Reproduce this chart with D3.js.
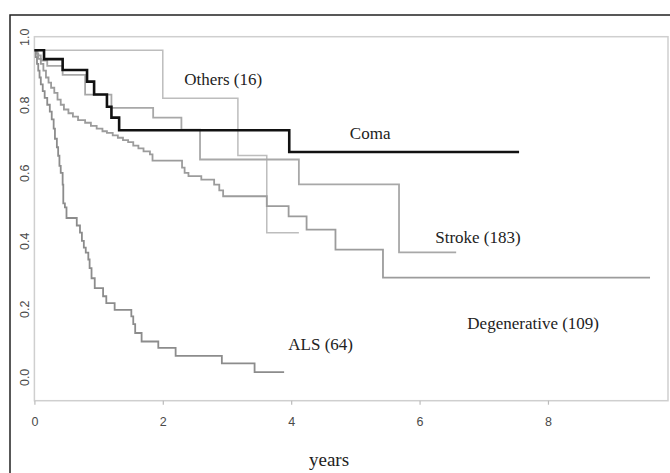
<!DOCTYPE html>
<html>
<head>
<meta charset="utf-8">
<script src="https://cdn.jsdelivr.net/npm/d3@7"></script>
<style>
  body { margin: 0; background: #fff; }
  svg { display: block; }
  .tick text { font-family: "Liberation Sans", Arial, sans-serif; font-size: 12.5px; fill: #4a4a4a; }
  .label { font-family: "Liberation Serif", "Times New Roman", serif; fill: #222; }
</style>
</head>
<body>
<svg id="chart" width="670" height="473"></svg>
<script>
// Survival curves, [years, survival] after each step
const coma = [[0, 0.96], [0.15, 0.934], [0.44, 0.902], [0.82, 0.868], [0.93, 0.83], [1.13, 0.794],
  [1.2, 0.762], [1.32, 0.725], [3.97, 0.661], [7.55, 0.661]]

const others = [[0, 0.96], [2.0, 0.819], [3.17, 0.651], [3.62, 0.424], [4.12, 0.424]]

const stroke = [[0, 0.96], [0.05, 0.945], [0.1, 0.93], [0.2, 0.914], [0.44, 0.888], [0.79, 0.83],
  [1.2, 0.791], [1.85, 0.762], [2.29, 0.727], [2.58, 0.639], [4.12, 0.566], [5.68, 0.366], [6.57, 0.366]]

const degenerative = [[0, 0.96], [0.03, 0.95], [0.06, 0.935], [0.1, 0.92], [0.14, 0.9], [0.18, 0.88],
  [0.22, 0.865], [0.26, 0.85], [0.31, 0.835], [0.36, 0.815], [0.41, 0.8], [0.46, 0.786], [0.53, 0.775],
  [0.6, 0.765], [0.68, 0.755], [0.79, 0.747], [0.88, 0.738], [0.97, 0.73], [1.06, 0.722], [1.13, 0.717],
  [1.22, 0.71], [1.3, 0.703], [1.38, 0.696], [1.46, 0.69], [1.54, 0.68], [1.62, 0.672], [1.7, 0.663],
  [1.8, 0.654], [1.84, 0.636], [2.3, 0.615], [2.34, 0.6], [2.4, 0.59], [2.6, 0.58], [2.8, 0.565],
  [2.88, 0.548], [2.94, 0.531], [3.62, 0.502], [3.96, 0.472], [4.24, 0.433], [4.69, 0.374],
  [5.43, 0.292], [9.59, 0.292]]

const als = [[0, 0.96], [0.02, 0.94], [0.04, 0.92], [0.06, 0.9], [0.08, 0.88], [0.1, 0.86], [0.13, 0.84],
  [0.16, 0.82], [0.2, 0.8], [0.24, 0.78], [0.27, 0.757], [0.3, 0.73], [0.32, 0.7], [0.35, 0.675],
  [0.37, 0.65], [0.39, 0.62], [0.41, 0.6], [0.44, 0.565], [0.45, 0.51], [0.475, 0.498], [0.5, 0.467],
  [0.66, 0.445], [0.71, 0.424], [0.74, 0.4], [0.77, 0.38], [0.8, 0.365], [0.84, 0.345], [0.86, 0.32],
  [0.89, 0.29], [0.94, 0.261], [1.07, 0.237], [1.12, 0.217], [1.25, 0.197], [1.51, 0.178], [1.54, 0.155],
  [1.57, 0.129], [1.67, 0.104], [1.93, 0.085], [2.2, 0.062], [2.92, 0.04], [3.43, 0.014], [3.89, 0.014]]

const xTicks = [0, 2, 4, 6, 8]
const yTicks = [0, 0.2, 0.4, 0.6, 0.8, 1.0]

// Curve labels: [text, years, survival] (centre of the text)
const curveLabels = [['Others (16)', 2.94, 0.876], ['Coma', 5.23, 0.718], ['Stroke (183)', 6.91, 0.411],
  ['Degenerative (109)', 7.77, 0.159], ['ALS (64)', 4.46, 0.097]]

const svg = d3.select('#chart')
const box = { left: 34.4, top: 36.7, right: 668, bottom: 400.7 }

const x = d3.scaleLinear().domain([0, 9.87]).range([box.left, box.right])
const y = d3.scaleLinear().domain([-0.07, 1.0]).range([box.bottom, box.top])

// Outer frame
svg.append('rect')
  .attr('x', 10).attr('y', 15)
  .attr('width', 700).attr('height', 500)
  .attr('fill', 'none')
  .attr('stroke', '#222')
  .attr('stroke-width', 1.5)

// Plot box
svg.append('rect')
  .attr('x', box.left).attr('y', box.top)
  .attr('width', box.right - box.left).attr('height', box.bottom - box.top)
  .attr('fill', 'none')
  .attr('stroke', '#cfcfcf')
  .attr('stroke-width', 1.5)

// Axes
let xAxis = svg.append('g')
  .attr('transform', 'translate(0,' + box.bottom + ')')
  .call(d3.axisBottom(x).tickValues(xTicks).tickSize(4).tickFormat(d3.format('d')))
xAxis.select('.domain').remove()
xAxis.selectAll('.tick line').attr('stroke', '#bbb').attr('stroke-width', 1.2)
xAxis.selectAll('.tick text').attr('y', 25).attr('dy', 0)

let yAxis = svg.append('g')
  .attr('transform', 'translate(' + box.left + ',0)')
  .call(d3.axisLeft(y).tickValues(yTicks).tickSize(0).tickFormat(d3.format('.1f')))
yAxis.select('.domain').remove()
yAxis.selectAll('.tick text')
  .attr('transform', 'rotate(-90)')
  .attr('x', 0).attr('y', -5).attr('dy', 0)
  .style('text-anchor', 'middle')

// Curves
const line = d3.line()
  .x(d => x(d[0]))
  .y(d => y(d[1]))
  .curve(d3.curveStepAfter)

const series = [
  { data: others, color: '#bdbdbd', width: 1.5 },
  { data: stroke, color: '#a8a8a8', width: 1.8 },
  { data: degenerative, color: '#9c9c9c', width: 1.8 },
  { data: als, color: '#8c8c8c', width: 1.8 },
  { data: coma, color: '#111', width: 2.6 }
]

series.forEach(s => {
  svg.append('path')
    .attr('d', line(s.data))
    .attr('fill', 'none')
    .attr('stroke', s.color)
    .attr('stroke-width', s.width)
})

// Labels
svg.selectAll('.curve-label')
  .data(curveLabels)
  .enter().append('text')
  .attr('class', 'label')
  .attr('x', d => x(d[1]))
  .attr('y', d => y(d[2]))
  .attr('text-anchor', 'middle')
  .attr('dy', '0.35em')
  .style('font-size', '17px')
  .text(d => d[0])

svg.append('text')
  .attr('class', 'label')
  .attr('x', 329)
  .attr('y', 466)
  .attr('text-anchor', 'middle')
  .style('font-size', '19px')
  .text('years')
</script>
</body>
</html>
